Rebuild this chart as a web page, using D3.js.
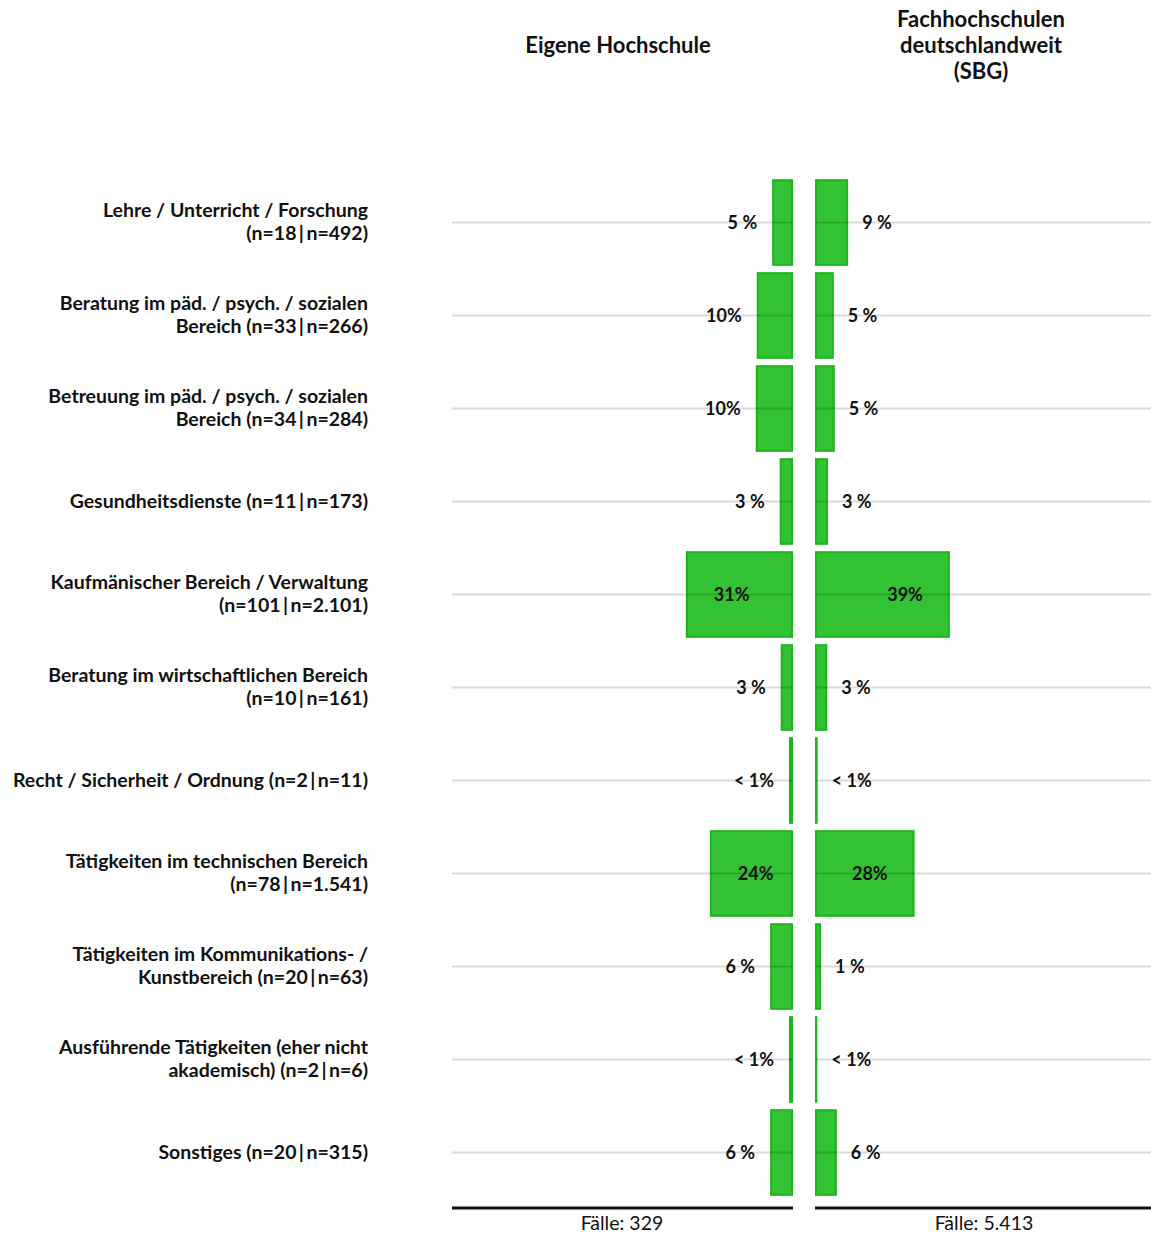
<!DOCTYPE html>
<html>
<head>
<meta charset="utf-8">
<script src="https://cdn.jsdelivr.net/npm/d3@7"></script>
<style>
  body { margin: 0; background: #fff; }
  svg text { font-family: Lato, "Noto Sans", sans-serif; fill: #111; }
</style>
</head>
<body>
<svg id="chart" width="1151" height="1235"></svg>
<script>
// category labels (each entry = lines of the label)
const categories = [
    ["Lehre / Unterricht / Forschung", "(n=18\u2009|\u2009n=492)"],
    ["Beratung im päd. / psych. / sozialen", "Bereich (n=33\u2009|\u2009n=266)"],
    ["Betreuung im päd. / psych. / sozialen", "Bereich (n=34\u2009|\u2009n=284)"],
    ["Gesundheitsdienste (n=11\u2009|\u2009n=173)"],
    ["Kaufmänischer Bereich / Verwaltung", "(n=101\u2009|\u2009n=2.101)"],
    ["Beratung im wirtschaftlichen Bereich", "(n=10\u2009|\u2009n=161)"],
    ["Recht / Sicherheit / Ordnung (n=2\u2009|\u2009n=11)"],
    ["Tätigkeiten im technischen Bereich", "(n=78\u2009|\u2009n=1.541)"],
    ["Tätigkeiten im Kommunikations- /", "Kunstbereich (n=20\u2009|\u2009n=63)"],
    ["Ausführende Tätigkeiten (eher nicht", "akademisch) (n=2\u2009|\u2009n=6)"],
    ["Sonstiges (n=20\u2009|\u2009n=315)"]
];

// percentages, own university
const eigeneValues = [5.5, 10.0, 10.3, 3.3, 30.7, 3.0, 0.6, 23.7, 6.1, 0.6, 6.1];
const eigeneLabels = ["5 %", "10%", "10%", "3 %", "31%", "3 %", "< 1%", "24%", "6 %", "< 1%", "6 %"];

// percentages, Fachhochschulen deutschlandweit
const fhValues = [9.1, 4.9, 5.2, 3.2, 38.8, 3.0, 0.2, 28.5, 1.2, 0.1, 5.8];
const fhLabels = ["9 %", "5 %", "5 %", "3 %", "39%", "3 %", "< 1%", "28%", "1 %", "< 1%", "6 %"];

const faelle = ["Fälle: 329", "Fälle: 5.413"];

const svg = d3.select("#chart");

const idx = d3.range(categories.length);
const y = d3.scaleBand().domain(idx).range([176, 1199]).paddingInner(0.09).paddingOuter(0.045);

// left panel grows to the left, right panel to the right
const leftEdge = 452, leftZero = 792, rightZero = 816, rightEdge = 1151;
const xL = d3.scaleLinear().domain([0, 40]).range([leftZero, leftZero - 137]);
const xR = d3.scaleLinear().domain([0, 40]).range([rightZero, rightZero + 137]);

const green = "#33c233", greenStroke = "#1cb51c";

// headers
svg.append("text").attr("x", 618).attr("y", 53).attr("text-anchor", "middle")
    .style("font-size", "22px").style("font-weight", "bold").text("Eigene Hochschule");
["Fachhochschulen", "deutschlandweit", "(SBG)"].forEach(function(t, i) {
    svg.append("text").attr("x", 981).attr("y", 27 + i * 26).attr("text-anchor", "middle")
        .style("font-size", "22px").style("font-weight", "bold").text(t);
});

// category labels
const catG = svg.append("g");
idx.forEach(function(i) {
    const lines = categories[i];
    const cy = y(i) + y.bandwidth() / 2;
    const t = catG.append("text").attr("text-anchor", "end")
        .style("font-size", "19.5px").style("font-weight", "bold");
    lines.forEach(function(l, k) {
        t.append("tspan").attr("x", 368)
            .attr("y", cy + 6 + (k - (lines.length - 1) / 2) * 23)
            .text(l);
    });
});

// bars
function drawSide(values, labels, x, dir) {
    const g = svg.append("g");
    g.selectAll("rect").data(values).enter().append("rect")
        .attr("x", (d) => dir < 0 ? x(d) : x(0))
        .attr("width", (d) => Math.abs(x(d) - x(0)))
        .attr("y", (d, i) => y(i))
        .attr("height", y.bandwidth())
        .attr("fill", green)
        .attr("stroke", greenStroke)
        .attr("stroke-width", 2);

    g.selectAll("text").data(values).enter().append("text")
        .attr("y", (d, i) => y(i) + y.bandwidth() / 2 + 6)
        .attr("x", function(d) {
            if (d > 15) return dir < 0 ? x(d) + 27 : x(d) - 26;
            return dir < 0 ? x(d) - 16 : x(d) + 15;
        })
        .attr("text-anchor", function(d) {
            if (d > 15) return dir < 0 ? "start" : "end";
            return dir < 0 ? "end" : "start";
        })
        .style("font-size", "18px").style("font-weight", "bold")
        .text((d, i) => labels[i]);
}

drawSide(eigeneValues, eigeneLabels, xL, -1);
drawSide(fhValues, fhLabels, xR, 1);

// gridlines on top of the bars, faint
const grid = svg.append("g").attr("stroke", "#000").attr("stroke-opacity", 0.14).attr("stroke-width", 2);
idx.forEach(function(i) {
    const cy = y(i) + y.bandwidth() / 2;
    grid.append("line").attr("x1", leftEdge).attr("x2", leftZero).attr("y1", cy).attr("y2", cy);
    grid.append("line").attr("x1", rightZero).attr("x2", rightEdge).attr("y1", cy).attr("y2", cy);
});

// base lines and case counts
svg.append("line").attr("x1", leftEdge).attr("x2", leftZero + 1).attr("y1", 1208).attr("y2", 1208)
    .attr("stroke", "#111").attr("stroke-width", 3);
svg.append("line").attr("x1", rightZero - 1).attr("x2", rightEdge).attr("y1", 1208).attr("y2", 1208)
    .attr("stroke", "#111").attr("stroke-width", 3);
svg.append("text").attr("x", 622).attr("y", 1230).attr("text-anchor", "middle")
    .style("font-size", "19.5px").text(faelle[0]);
svg.append("text").attr("x", 984).attr("y", 1230).attr("text-anchor", "middle")
    .style("font-size", "19.5px").text(faelle[1]);
</script>
</body>
</html>
